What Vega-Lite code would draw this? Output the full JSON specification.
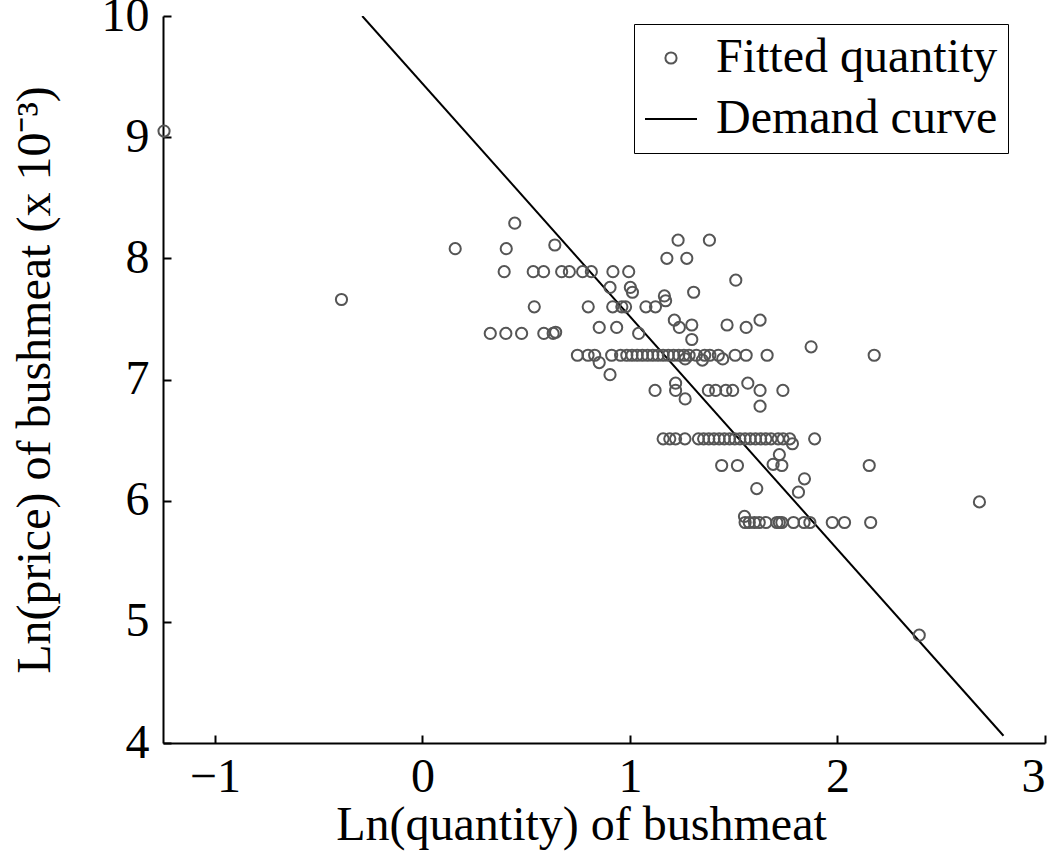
{
  "$schema": "https://vega.github.io/schema/vega-lite/v6.json",
  "autosize": {"type": "none"},
  "padding": {"left": 163, "top": 16, "right": 5, "bottom": 120},
  "width": 882,
  "height": 727,
  "background": "white",
  "config": {
    "view": {"stroke": null},
    "font": "Liberation Serif",
    "axis": {
      "domainColor": "black", "domainWidth": 2, "tickColor": "black", "tickWidth": 2,
      "labelColor": "black", "titleColor": "black", "grid": false,
      "labelFont": "Liberation Serif", "titleFont": "Liberation Serif",
      "labelFontSize": 48, "titleFontSize": 48, "titleFontWeight": "normal"
    },
    "legend": {
      "labelFont": "Liberation Serif", "labelFontSize": 48, "labelColor": "black",
      "symbolStrokeWidth": 2, "labelLimit": 600
    }
  },
  "datasets": {
    "pts": [
      {"x": -1.245, "y": 9.05, "s": "Fitted quantity"},
      {"x": -0.39, "y": 7.66, "s": "Fitted quantity"},
      {"x": 0.158, "y": 8.08, "s": "Fitted quantity"},
      {"x": 0.404, "y": 8.08, "s": "Fitted quantity"},
      {"x": 0.445, "y": 8.29, "s": "Fitted quantity"},
      {"x": 0.638, "y": 8.11, "s": "Fitted quantity"},
      {"x": 0.394, "y": 7.89, "s": "Fitted quantity"},
      {"x": 0.534, "y": 7.89, "s": "Fitted quantity"},
      {"x": 0.584, "y": 7.89, "s": "Fitted quantity"},
      {"x": 0.671, "y": 7.89, "s": "Fitted quantity"},
      {"x": 0.708, "y": 7.89, "s": "Fitted quantity"},
      {"x": 0.772, "y": 7.89, "s": "Fitted quantity"},
      {"x": 0.814, "y": 7.89, "s": "Fitted quantity"},
      {"x": 0.918, "y": 7.89, "s": "Fitted quantity"},
      {"x": 0.994, "y": 7.89, "s": "Fitted quantity"},
      {"x": 0.904, "y": 7.76, "s": "Fitted quantity"},
      {"x": 1.002, "y": 7.76, "s": "Fitted quantity"},
      {"x": 1.012, "y": 7.72, "s": "Fitted quantity"},
      {"x": 1.307, "y": 7.72, "s": "Fitted quantity"},
      {"x": 0.539, "y": 7.6, "s": "Fitted quantity"},
      {"x": 0.799, "y": 7.6, "s": "Fitted quantity"},
      {"x": 0.917, "y": 7.6, "s": "Fitted quantity"},
      {"x": 0.961, "y": 7.6, "s": "Fitted quantity"},
      {"x": 0.979, "y": 7.6, "s": "Fitted quantity"},
      {"x": 1.077, "y": 7.6, "s": "Fitted quantity"},
      {"x": 1.123, "y": 7.6, "s": "Fitted quantity"},
      {"x": 1.166, "y": 7.69, "s": "Fitted quantity"},
      {"x": 1.172, "y": 7.65, "s": "Fitted quantity"},
      {"x": 0.852, "y": 7.43, "s": "Fitted quantity"},
      {"x": 0.936, "y": 7.43, "s": "Fitted quantity"},
      {"x": 1.238, "y": 7.43, "s": "Fitted quantity"},
      {"x": 1.56, "y": 7.43, "s": "Fitted quantity"},
      {"x": 0.327, "y": 7.38, "s": "Fitted quantity"},
      {"x": 0.402, "y": 7.38, "s": "Fitted quantity"},
      {"x": 0.478, "y": 7.38, "s": "Fitted quantity"},
      {"x": 0.585, "y": 7.38, "s": "Fitted quantity"},
      {"x": 0.63, "y": 7.38, "s": "Fitted quantity"},
      {"x": 0.642, "y": 7.39, "s": "Fitted quantity"},
      {"x": 1.042, "y": 7.38, "s": "Fitted quantity"},
      {"x": 1.214, "y": 7.49, "s": "Fitted quantity"},
      {"x": 1.627, "y": 7.49, "s": "Fitted quantity"},
      {"x": 1.232, "y": 8.15, "s": "Fitted quantity"},
      {"x": 1.383, "y": 8.15, "s": "Fitted quantity"},
      {"x": 1.178, "y": 8.0, "s": "Fitted quantity"},
      {"x": 1.274, "y": 8.0, "s": "Fitted quantity"},
      {"x": 1.51, "y": 7.82, "s": "Fitted quantity"},
      {"x": 1.298, "y": 7.45, "s": "Fitted quantity"},
      {"x": 1.468, "y": 7.45, "s": "Fitted quantity"},
      {"x": 1.298, "y": 7.33, "s": "Fitted quantity"},
      {"x": 1.873, "y": 7.27, "s": "Fitted quantity"},
      {"x": 0.747, "y": 7.2, "s": "Fitted quantity"},
      {"x": 0.798, "y": 7.2, "s": "Fitted quantity"},
      {"x": 0.83, "y": 7.2, "s": "Fitted quantity"},
      {"x": 0.912, "y": 7.2, "s": "Fitted quantity"},
      {"x": 0.955, "y": 7.2, "s": "Fitted quantity"},
      {"x": 0.985, "y": 7.2, "s": "Fitted quantity"},
      {"x": 1.01, "y": 7.2, "s": "Fitted quantity"},
      {"x": 1.035, "y": 7.2, "s": "Fitted quantity"},
      {"x": 1.06, "y": 7.2, "s": "Fitted quantity"},
      {"x": 1.085, "y": 7.2, "s": "Fitted quantity"},
      {"x": 1.11, "y": 7.2, "s": "Fitted quantity"},
      {"x": 1.135, "y": 7.2, "s": "Fitted quantity"},
      {"x": 1.16, "y": 7.2, "s": "Fitted quantity"},
      {"x": 1.185, "y": 7.2, "s": "Fitted quantity"},
      {"x": 1.21, "y": 7.2, "s": "Fitted quantity"},
      {"x": 1.235, "y": 7.2, "s": "Fitted quantity"},
      {"x": 1.26, "y": 7.2, "s": "Fitted quantity"},
      {"x": 1.285, "y": 7.2, "s": "Fitted quantity"},
      {"x": 1.32, "y": 7.2, "s": "Fitted quantity"},
      {"x": 1.36, "y": 7.2, "s": "Fitted quantity"},
      {"x": 1.385, "y": 7.2, "s": "Fitted quantity"},
      {"x": 1.426, "y": 7.2, "s": "Fitted quantity"},
      {"x": 1.507, "y": 7.2, "s": "Fitted quantity"},
      {"x": 1.56, "y": 7.2, "s": "Fitted quantity"},
      {"x": 1.661, "y": 7.2, "s": "Fitted quantity"},
      {"x": 2.177, "y": 7.2, "s": "Fitted quantity"},
      {"x": 1.447, "y": 7.17, "s": "Fitted quantity"},
      {"x": 1.266, "y": 7.17, "s": "Fitted quantity"},
      {"x": 1.349, "y": 7.16, "s": "Fitted quantity"},
      {"x": 0.852, "y": 7.14, "s": "Fitted quantity"},
      {"x": 0.904, "y": 7.04, "s": "Fitted quantity"},
      {"x": 1.22, "y": 6.97, "s": "Fitted quantity"},
      {"x": 1.568, "y": 6.97, "s": "Fitted quantity"},
      {"x": 1.121, "y": 6.91, "s": "Fitted quantity"},
      {"x": 1.22, "y": 6.91, "s": "Fitted quantity"},
      {"x": 1.378, "y": 6.91, "s": "Fitted quantity"},
      {"x": 1.413, "y": 6.91, "s": "Fitted quantity"},
      {"x": 1.462, "y": 6.91, "s": "Fitted quantity"},
      {"x": 1.495, "y": 6.91, "s": "Fitted quantity"},
      {"x": 1.627, "y": 6.91, "s": "Fitted quantity"},
      {"x": 1.737, "y": 6.91, "s": "Fitted quantity"},
      {"x": 1.266, "y": 6.84, "s": "Fitted quantity"},
      {"x": 1.627, "y": 6.78, "s": "Fitted quantity"},
      {"x": 1.16, "y": 6.51, "s": "Fitted quantity"},
      {"x": 1.192, "y": 6.51, "s": "Fitted quantity"},
      {"x": 1.22, "y": 6.51, "s": "Fitted quantity"},
      {"x": 1.265, "y": 6.51, "s": "Fitted quantity"},
      {"x": 1.33, "y": 6.51, "s": "Fitted quantity"},
      {"x": 1.355, "y": 6.51, "s": "Fitted quantity"},
      {"x": 1.38, "y": 6.51, "s": "Fitted quantity"},
      {"x": 1.405, "y": 6.51, "s": "Fitted quantity"},
      {"x": 1.43, "y": 6.51, "s": "Fitted quantity"},
      {"x": 1.455, "y": 6.51, "s": "Fitted quantity"},
      {"x": 1.48, "y": 6.51, "s": "Fitted quantity"},
      {"x": 1.505, "y": 6.51, "s": "Fitted quantity"},
      {"x": 1.53, "y": 6.51, "s": "Fitted quantity"},
      {"x": 1.555, "y": 6.51, "s": "Fitted quantity"},
      {"x": 1.58, "y": 6.51, "s": "Fitted quantity"},
      {"x": 1.605, "y": 6.51, "s": "Fitted quantity"},
      {"x": 1.63, "y": 6.51, "s": "Fitted quantity"},
      {"x": 1.655, "y": 6.51, "s": "Fitted quantity"},
      {"x": 1.68, "y": 6.51, "s": "Fitted quantity"},
      {"x": 1.714, "y": 6.51, "s": "Fitted quantity"},
      {"x": 1.738, "y": 6.51, "s": "Fitted quantity"},
      {"x": 1.77, "y": 6.51, "s": "Fitted quantity"},
      {"x": 1.89, "y": 6.51, "s": "Fitted quantity"},
      {"x": 1.783, "y": 6.47, "s": "Fitted quantity"},
      {"x": 1.72, "y": 6.38, "s": "Fitted quantity"},
      {"x": 1.442, "y": 6.29, "s": "Fitted quantity"},
      {"x": 1.518, "y": 6.29, "s": "Fitted quantity"},
      {"x": 1.69, "y": 6.3, "s": "Fitted quantity"},
      {"x": 1.732, "y": 6.29, "s": "Fitted quantity"},
      {"x": 2.153, "y": 6.29, "s": "Fitted quantity"},
      {"x": 1.841, "y": 6.18, "s": "Fitted quantity"},
      {"x": 1.611, "y": 6.1, "s": "Fitted quantity"},
      {"x": 1.812, "y": 6.07, "s": "Fitted quantity"},
      {"x": 1.552, "y": 5.87, "s": "Fitted quantity"},
      {"x": 1.555, "y": 5.82, "s": "Fitted quantity"},
      {"x": 1.575, "y": 5.82, "s": "Fitted quantity"},
      {"x": 1.6, "y": 5.82, "s": "Fitted quantity"},
      {"x": 1.623, "y": 5.82, "s": "Fitted quantity"},
      {"x": 1.655, "y": 5.82, "s": "Fitted quantity"},
      {"x": 1.708, "y": 5.82, "s": "Fitted quantity"},
      {"x": 1.72, "y": 5.82, "s": "Fitted quantity"},
      {"x": 1.732, "y": 5.82, "s": "Fitted quantity"},
      {"x": 1.788, "y": 5.82, "s": "Fitted quantity"},
      {"x": 1.839, "y": 5.82, "s": "Fitted quantity"},
      {"x": 1.867, "y": 5.82, "s": "Fitted quantity"},
      {"x": 1.975, "y": 5.82, "s": "Fitted quantity"},
      {"x": 2.034, "y": 5.82, "s": "Fitted quantity"},
      {"x": 2.16, "y": 5.82, "s": "Fitted quantity"},
      {"x": 2.684, "y": 5.99, "s": "Fitted quantity"},
      {"x": 2.394, "y": 4.89, "s": "Fitted quantity"}
    ],
    "curve": [
      {"x": -0.29, "y": 10.0},
      {"x": 2.8, "y": 4.06}
    ]
  },
  "layer": [
    {
      "data": {"name": "curve"},
      "mark": {"type": "line", "color": "black", "strokeWidth": 2, "clip": true},
      "encoding": {
        "x": {"field": "x", "type": "quantitative"},
        "y": {"field": "y", "type": "quantitative"}
      }
    },
    {
      "data": {"name": "pts"},
      "mark": {"type": "point", "filled": false, "strokeWidth": 2, "opacity": 1},
      "encoding": {
        "x": {
          "field": "x", "type": "quantitative",
          "scale": {"domain": [-1.25, 3], "nice": false, "zero": false},
          "axis": {
            "title": "Ln(quantity) of bushmeat", "values": [-1, 0, 1, 2, 3], "format": "d",
            "tickSize": -8, "labelPadding": 18, "titlePadding": 0,
            "labelBaseline": "top", "titleX": 418, "titleAlign": "center"
          }
        },
        "y": {
          "field": "y", "type": "quantitative",
          "scale": {"domain": [4, 10], "nice": false, "zero": false},
          "axis": {
            "title": "Ln(price) of bushmeat (x 10⁻³)", "values": [4, 5, 6, 7, 8, 9, 10], "format": "d",
            "tickSize": -8, "labelPadding": 22, "titlePadding": 42
          }
        },
        "shape": {
          "field": "s", "type": "nominal",
          "scale": {"domain": ["Fitted quantity", "Demand curve"], "range": ["circle", "stroke"]},
          "legend": {
            "title": null, "orient": "none", "legendX": 471, "legendY": 8,
            "strokeColor": "black", "fillColor": "white", "padding": 10,
            "rowPadding": 10, "labelOffset": 18, "symbolStrokeWidth": 2,
            "labelExpr": "datum.label + '  '"
          }
        },
        "size": {
          "field": "s", "type": "nominal",
          "scale": {"domain": ["Fitted quantity", "Demand curve"], "range": [125, 2704]}
        },
        "stroke": {
          "field": "s", "type": "nominal",
          "scale": {"domain": ["Fitted quantity", "Demand curve"], "range": ["#555555", "#000000"]}
        }
      }
    }
  ]
}
